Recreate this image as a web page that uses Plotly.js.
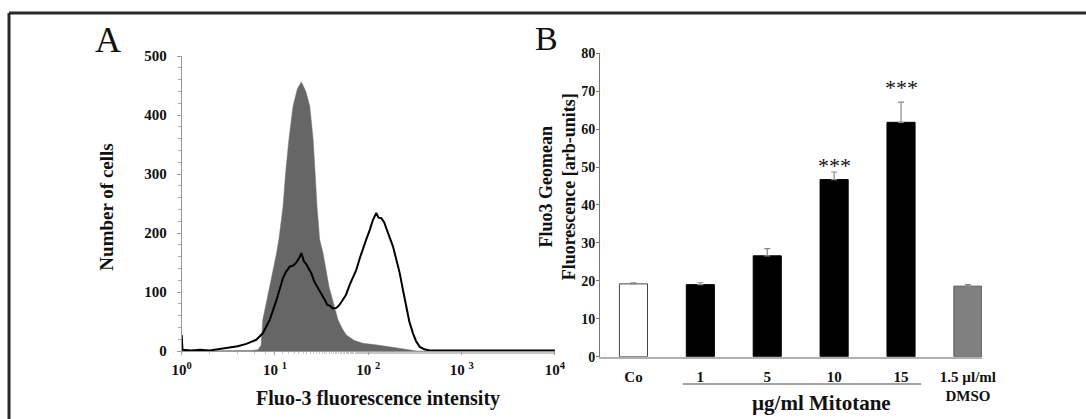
<!DOCTYPE html>
<html>
<head>
<meta charset="utf-8">
<script src="https://cdn.plot.ly/plotly-3.0.1.min.js"></script>
<style>html,body{margin:0;padding:0;background:#fff;}#chart{width:1086px;height:419px;}</style>
</head>
<body>
<div id="chart"></div>
<script>
// ---------- Panel A data (Fluo-3 fluorescence intensity histogram) ----------
const controlIntensity = [1, 3.16, 5.6, 6.6, 7.1, 7.4, 8.8, 10.4, 11.0, 11.7, 12.2, 13.0, 14.1, 15.6, 17.4, 19.2, 21.4, 23.6, 25.6, 26.9, 28.2, 30.1, 32.7, 37.9, 47.3, 52.5, 58.2, 70.8, 87.7, 126, 200, 251, 327, 10000];
const controlCells     = [0, 0, 1, 2, 10, 53, 109, 166, 189, 223, 245, 302, 359, 415, 445, 456, 440, 415, 359, 302, 245, 189, 166, 109, 53, 38, 27, 18, 13, 10, 6, 3, 0, 0];

const mitotaneIntensity = [1.0, 1.02, 1.26, 1.58, 2.0, 2.51, 2.8, 3.27, 3.98, 4.93, 5.6, 6.3, 7.4, 8.8, 10.4, 11.2, 12.2, 13.2, 14.4, 15.8, 16.9, 18.2, 19.2, 20.4, 21.7, 22.9, 24.5, 26.3, 29.0, 31.6, 34.1, 36.3, 38.5, 41.7, 45.5, 49.0, 53.6, 57.5, 63.1, 68.4, 74.5, 81.3, 87.7, 95.5, 103.5, 112, 121.6, 128.8, 138, 148, 158.5, 170, 184, 199.5, 217, 234, 256, 275, 301, 324, 356, 398, 455, 631, 1000, 1585, 3162, 6310, 10000];
const mitotaneCells     = [27, 2, 1, 2, 1, 3, 5, 6, 8, 12, 15, 19, 30, 53, 87, 105, 124, 135, 143, 145, 150, 158, 166, 152, 147, 140, 132, 118, 107, 95, 87, 78, 77, 72, 73, 78, 87, 95, 112, 125, 138, 158, 175, 190, 205, 222, 234, 226, 225, 218, 205, 192, 177, 155, 132, 105, 75, 50, 30, 17, 7, 3, 1, 1, 1, 1, 1, 1, 1];

const histTickVals = [1, 10, 100, 1000, 10000];
const histTickText = ['10<sup>0</sup>', '10 <sup>1</sup>', '10 <sup>2</sup>', '10 <sup>3</sup>', '10<sup>4</sup>'];

// ---------- Panel B data (Fluo3 Geomean fluorescence) ----------
const groups       = ['Co', '1', '5', '10', '15', '1.5 µl/ml<br>DMSO'];
const geomean      = [19.2, 19.0, 26.6, 46.7, 61.8, 18.6];
const geomeanErr   = [0.3, 0.5, 1.9, 2.0, 5.3, 0.4];
const significance = ['', '', '', '***', '***', ''];
const significanceY = [null, null, null, 51.4, 72.1, null];
const barColors    = ['#ffffff', '#000000', '#000000', '#000000', '#000000', '#808080'];
const barLines     = ['#444444', '#000000', '#000000', '#000000', '#000000', '#555555'];

const serif = '"Liberation Serif", "Times New Roman", serif';
const groupIdx = groups.map((g, i) => i);

const traces = [
  {
    x: controlIntensity, y: controlCells, type: 'scatter', mode: 'lines',
    fill: 'tozeroy', fillcolor: '#666666', line: {color: '#707070', width: 0.5},
    xaxis: 'x', yaxis: 'y', hoverinfo: 'skip'
  },
  {
    x: mitotaneIntensity, y: mitotaneCells, type: 'scatter', mode: 'lines',
    line: {color: '#000000', width: 2}, xaxis: 'x', yaxis: 'y', hoverinfo: 'skip'
  },
  {
    x: groupIdx, y: geomean, type: 'bar', width: 0.42,
    marker: {color: barColors, line: {color: barLines, width: 1}},
    error_y: {type: 'data', symmetric: false, array: geomeanErr, arrayminus: geomeanErr.map(() => 0),
              visible: true, color: '#888888', thickness: 1.2, width: 3},
    xaxis: 'x2', yaxis: 'y2', hoverinfo: 'skip'
  }
];

const tickFont = {family: serif, size: 15, color: '#111', weight: 700};
const annotations = [
  {text: 'A', x: 0.0991, y: 0.905, font: {family: serif, size: 36, color: '#111'}},
  {text: 'B', x: 0.5028, y: 0.909, font: {family: serif, size: 34, color: '#111'}},
  {text: 'Number of cells', x: 0.0982, y: 0.506, textangle: -90, font: {family: serif, size: 19, color: '#111', weight: 700}},
  {text: 'Fluo-3 fluorescence intensity', x: 0.3483, y: 0.0501, font: {family: serif, size: 20, color: '#111', weight: 700}},
  {text: 'Fluo3 Geomean<br>Fluorescence [arb-units]', x: 0.5135, y: 0.5544, textangle: -90, font: {family: serif, size: 18, color: '#111', weight: 700}},
  {text: 'µg/ml Mitotane', x: 0.756, y: 0.0382, font: {family: serif, size: 21, color: '#111', weight: 700}}
].map(a => Object.assign({xref: 'paper', yref: 'paper', xanchor: 'center', yanchor: 'middle', showarrow: false}, a));

groupIdx.forEach(i => {
  if (significance[i]) {
    annotations.push({
      text: significance[i], x: i, y: significanceY[i], xref: 'x2', yref: 'y2',
      xanchor: 'center', yanchor: 'middle', showarrow: false, yshift: -4,
      font: {family: serif, size: 22, color: '#111'}
    });
  }
});

const layout = {
  width: 1086, height: 419,
  margin: {l: 0, r: 0, t: 0, b: 0},
  paper_bgcolor: '#ffffff', plot_bgcolor: 'rgba(0,0,0,0)',
  showlegend: false, hovermode: false,
  xaxis: {
    domain: [0.1673, 0.5110], type: 'log', range: [0, 4],
    tickvals: histTickVals, ticktext: histTickText, tickfont: tickFont,
    showline: true, linecolor: '#999999', linewidth: 1,
    ticks: 'outside', ticklen: 3, tickcolor: '#999999', ticklabelstandoff: 2,
    minor: {ticks: 'outside', ticklen: 2, tickcolor: '#c8c8c8', showgrid: false},
    showgrid: false, zeroline: false, anchor: 'y', fixedrange: true
  },
  yaxis: {
    domain: [0.1623, 0.8663], range: [0, 500], dtick: 100, tickfont: tickFont,
    showline: true, linecolor: '#999999', linewidth: 1,
    ticks: 'outside', ticklen: 4, tickcolor: '#999999', ticklabelstandoff: 7,
    minor: {dtick: 20, ticks: 'outside', ticklen: 3, tickcolor: '#aaaaaa', showgrid: false},
    showgrid: false, zeroline: false, anchor: 'x', fixedrange: true
  },
  xaxis2: {
    domain: [0.5525, 0.9042], range: [-0.5, 5.21],
    tickvals: groupIdx, ticktext: groups, tickfont: {family: serif, size: 15, color: '#111', weight: 700},
    showline: true, linecolor: '#b0b0b0', linewidth: 2, ticks: '', ticklabelstandoff: 5,
    showgrid: false, zeroline: false, anchor: 'y2', fixedrange: true
  },
  yaxis2: {
    domain: [0.1487, 0.8728], range: [0, 80], dtick: 10,
    tickfont: {family: serif, size: 14, color: '#111', weight: 700},
    showline: true, linecolor: '#777777', linewidth: 1,
    ticks: 'outside', ticklen: 3, tickcolor: '#777777', ticklabelstandoff: -2,
    showgrid: false, zeroline: false, anchor: 'x2', fixedrange: true
  },
  shapes: [
    {type: 'line', xref: 'paper', yref: 'paper', x0: 0.0083, x1: 1, y0: 0.969, y1: 0.969, line: {color: '#2a2a2a', width: 3}},
    {type: 'line', xref: 'paper', yref: 'paper', x0: 0.0083, x1: 0.0083, y0: 0, y1: 0.969, line: {color: '#2a2a2a', width: 3}},
    {type: 'line', xref: 'x2', yref: 'paper', x0: 0.74, x1: 4.3, y0: 0.0835, y1: 0.0835, line: {color: '#444444', width: 1}}
  ],
  annotations: annotations
};

Plotly.newPlot('chart', traces, layout, {displayModeBar: false, staticPlot: true});
</script>
</body>
</html>
